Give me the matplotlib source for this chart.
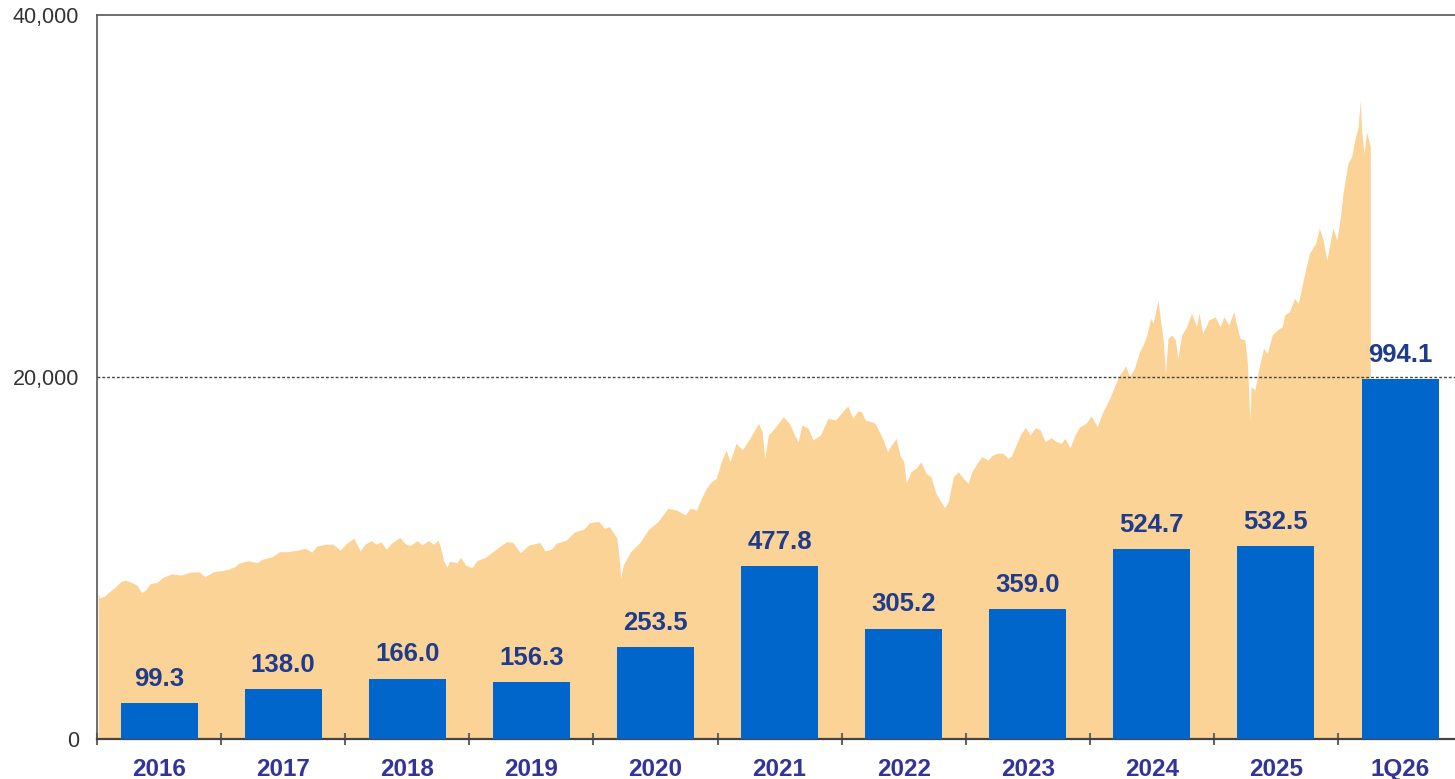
import matplotlib
matplotlib.use('Agg')
import matplotlib.pyplot as plt
import numpy as np
from matplotlib.ticker import FuncFormatter

plt.rcParams['font.family'] = ['Liberation Sans', 'DejaVu Sans']

# bar data (right, hidden scale)
categories = ['2016', '2017', '2018', '2019', '2020', '2021', '2022', '2023', '2024', '2025', '1Q26']
bar_values = [99.3, 138.0, 166.0, 156.3, 253.5, 477.8, 305.2, 359.0, 524.7, 532.5, 994.1]

# index level (left scale); x in decimal years
index_dates = [
	2016.01, 2016.02, 2016.06, 2016.10, 2016.15, 2016.19, 2016.23, 2016.28, 2016.32, 2016.36,
	2016.39, 2016.43, 2016.48, 2016.53, 2016.60, 2016.68, 2016.74, 2016.82, 2016.87, 2016.94,
	2017.00, 2017.06, 2017.11, 2017.14, 2017.22, 2017.29, 2017.33, 2017.41, 2017.47, 2017.54,
	2017.62, 2017.68, 2017.73, 2017.77, 2017.84, 2017.90, 2017.96, 2018.01, 2018.07, 2018.09,
	2018.12, 2018.16, 2018.21, 2018.25, 2018.29, 2018.33, 2018.37, 2018.44, 2018.48, 2018.52,
	2018.58, 2018.62, 2018.67, 2018.71, 2018.75, 2018.78, 2018.79, 2018.82, 2018.84, 2018.90,
	2018.93, 2018.97, 2019.02, 2019.06, 2019.13, 2019.19, 2019.25, 2019.30, 2019.35, 2019.41,
	2019.48, 2019.57, 2019.61, 2019.66, 2019.70, 2019.78, 2019.85, 2019.92, 2019.97, 2020.03,
	2020.04, 2020.09, 2020.13, 2020.19, 2020.21, 2020.22, 2020.24, 2020.30, 2020.38, 2020.44,
	2020.52, 2020.60, 2020.67, 2020.74, 2020.78, 2020.83, 2020.87, 2020.91, 2020.95, 2020.99,
	2021.03, 2021.07, 2021.10, 2021.15, 2021.20, 2021.26, 2021.33, 2021.36, 2021.38, 2021.41,
	2021.46, 2021.53, 2021.58, 2021.62, 2021.65, 2021.68, 2021.73, 2021.77, 2021.83, 2021.89,
	2021.95, 2022.03, 2022.05, 2022.09, 2022.13, 2022.16, 2022.19, 2022.24, 2022.27, 2022.29,
	2022.33, 2022.37, 2022.40, 2022.44, 2022.47, 2022.50, 2022.52, 2022.56, 2022.60, 2022.64,
	2022.68, 2022.72, 2022.76, 2022.80, 2022.83, 2022.86, 2022.90, 2022.94, 2022.98, 2023.02,
	2023.05, 2023.10, 2023.13, 2023.18, 2023.21, 2023.25, 2023.30, 2023.34, 2023.37, 2023.40,
	2023.44, 2023.48, 2023.52, 2023.56, 2023.60, 2023.64, 2023.69, 2023.73, 2023.77, 2023.80,
	2023.84, 2023.88, 2023.92, 2023.97, 2024.01, 2024.06, 2024.10, 2024.16, 2024.22, 2024.24,
	2024.29, 2024.32, 2024.36, 2024.40, 2024.43, 2024.46, 2024.49, 2024.51, 2024.55, 2024.57,
	2024.59, 2024.61, 2024.63, 2024.66, 2024.69, 2024.71, 2024.74, 2024.78, 2024.82, 2024.86,
	2024.88, 2024.91, 2024.96, 2025.01, 2025.05, 2025.08, 2025.12, 2025.16, 2025.18, 2025.21,
	2025.25, 2025.27, 2025.29, 2025.30, 2025.33, 2025.36, 2025.40, 2025.43, 2025.47, 2025.51,
	2025.55, 2025.57, 2025.61, 2025.65, 2025.68, 2025.72, 2025.77, 2025.82, 2025.85, 2025.88,
	2025.91, 2025.94, 2025.96, 2025.99, 2026.02, 2026.04, 2026.08, 2026.11, 2026.14, 2026.16,
	2026.18, 2026.19, 2026.21, 2026.23, 2026.26,
]
index_values = [
	8080, 7790, 7900, 8140, 8410, 8690, 8780, 8640, 8510, 8080,
	8230, 8600, 8640, 8930, 9120, 9060, 9210, 9240, 8970, 9240,
	9300, 9380, 9520, 9710, 9850, 9740, 9930, 10070, 10350, 10350,
	10440, 10540, 10320, 10660, 10760, 10770, 10440, 10810, 11090, 10810,
	10390, 10760, 10960, 10770, 10900, 10480, 10810, 11140, 10810, 10680,
	10960, 10720, 10960, 10760, 10990, 10260, 9890, 9490, 9830, 9740,
	10040, 9610, 9460, 9850, 10040, 10350, 10660, 10900, 10870, 10290,
	10720, 10850, 10400, 10480, 10810, 10990, 11450, 11590, 11950, 12010,
	12040, 11640, 11730, 11090, 9800, 8880, 9610, 10350, 10900, 11550,
	12010, 12750, 12650, 12380, 12750, 12650, 13300, 13850, 14220, 14400,
	15320, 15970, 15320, 16340, 15970, 16610, 17440, 16980, 15510, 16800,
	17170, 17810, 17440, 16800, 16430, 17350, 17170, 16520, 16800, 17720,
	17620, 18270, 18400, 17720, 18120, 18080, 17620, 17530, 17440, 17170,
	16610, 15870, 16240, 16610, 15690, 15320, 14130, 14770, 14960, 15320,
	14680, 14490, 13580, 13110, 12780, 13110, 14490, 14770, 14400, 14130,
	14770, 15320, 15600, 15410, 15650, 15790, 15790, 15510, 15650, 16150,
	16800, 17220, 16800, 17200, 17070, 16430, 16650, 16430, 16340, 16610,
	16090, 16800, 17250, 17440, 17860, 17250, 18000, 18820, 19830, 20110,
	20610, 20020, 20480, 21400, 21770, 22320, 23240, 22970, 24250, 23150,
	22140, 20200, 22140, 22320, 22050, 21030, 22320, 22780, 23520, 22780,
	23520, 22410, 23150, 23330, 22780, 23330, 22870, 23610, 22970, 22140,
	22050, 20760, 17620, 19460, 19280, 20390, 21590, 21310, 22320, 22600,
	22780, 23430, 23610, 24350, 24070, 25360, 26840, 27390, 28220, 27570,
	26460, 27570, 28220, 27570, 28860, 30150, 31810, 32170, 33280, 33690,
	35300, 33650, 32360, 33550, 32730,
]

y_ticks = [0, 20000, 40000]
ref_level = 20000

area_color = '#FCD396'
bar_color = '#0066CC'
label_color = '#1F3C8C'
xtick_color = '#33339C'

fig = plt.figure(figsize=(14.55, 7.79), dpi=100)
ax = fig.add_axes((97/1455, 40/779, (11*124.1)/1455, 724/779))

# area: years since 2016 so it lines up with the category slots
t = np.array(index_dates) - 2016
ax.fill_between(t, 0, index_values, color=area_color, linewidth=0, zorder=1)
ax.axhline(ref_level, color='#444444', linestyle=(0, (2, 1.5)), linewidth=1.0, zorder=2)

ax.set_xlim(0, len(categories))
ax.set_ylim(0, 40000)
ax.set_yticks(y_ticks)
ax.yaxis.set_major_formatter(FuncFormatter(lambda v, _: f'{int(v):,}'))
ax.tick_params(axis='y', length=0, pad=13, labelsize=15.5, labelcolor='#333333')

centers = np.arange(len(categories)) + 0.5
ax.set_xticks(centers)
ax.set_xticklabels(categories)
ax.set_xticks(np.arange(len(categories) + 1), minor=True)
ax.tick_params(axis='x', which='major', length=0, pad=14, labelsize=17.5, labelcolor=xtick_color)
for lbl in ax.get_xticklabels():
	lbl.set_fontweight('bold')
ax.tick_params(axis='x', which='minor', direction='inout', length=8, width=1.5, color='#666666')

for side in ('left', 'top'):
	ax.spines[side].set_color('#555555')
	ax.spines[side].set_linewidth(1.2)
ax.spines['bottom'].set_color('#444444')
ax.spines['bottom'].set_linewidth(1.6)
ax.spines['right'].set_visible(False)

# bars on a hidden scale of 0-2000
ax2 = ax.twinx()
ax2.set_ylim(0, 2000)
ax2.set_xlim(0, len(categories))
bars = ax2.bar(centers, bar_values, width=0.62, color=bar_color, zorder=3)
for rect, v in zip(bars, bar_values):
	ax2.annotate(f'{v:.1f}', (rect.get_x() + rect.get_width()/2, rect.get_height()),
		xytext=(0, 9), textcoords='offset points', ha='center', va='bottom',
		fontsize=18.5, fontweight='bold', color=label_color)
ax2.set_yticks([])
for s in ax2.spines.values():
	s.set_visible(False)

fig.savefig('out.png', dpi=100)
